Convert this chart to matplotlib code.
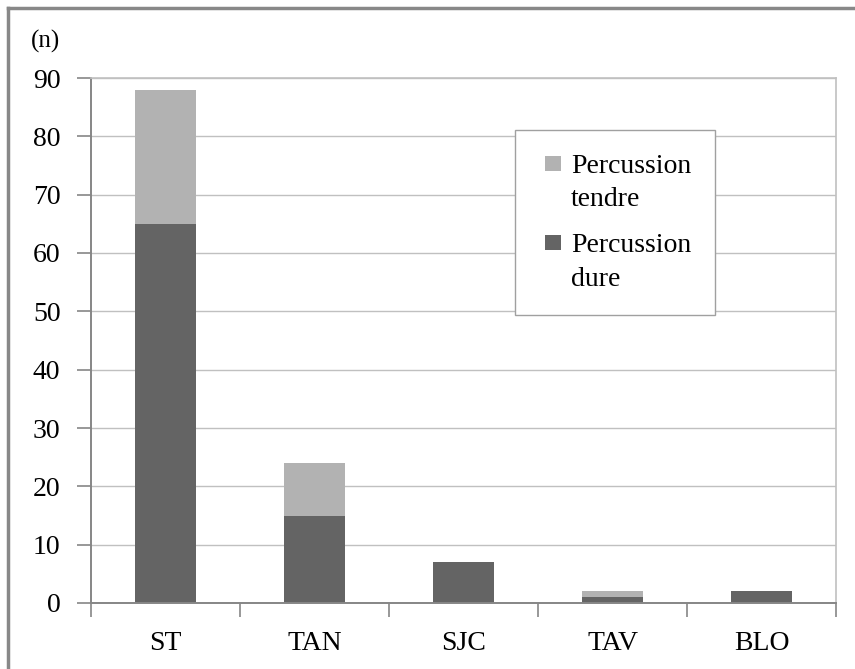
import matplotlib.pyplot as plt
from matplotlib.lines import Line2D
from matplotlib.patches import Patch, Rectangle
from matplotlib.legend_handler import HandlerPatch

plt.rcParams['font.family'] = ['Liberation Serif', 'DejaVu Serif']

sites = ['ST', 'TAN', 'SJC', 'TAV', 'BLO']
dure = [65, 15, 7, 1, 2]
tendre = [23, 9, 0, 1, 0]
yticks = [0, 10, 20, 30, 40, 50, 60, 70, 80, 90]

c_dure = '#646464'
c_tendre = '#b2b2b2'
fs = 20

fig = plt.figure(figsize=(8.55, 6.69), dpi=100)
ax = fig.add_axes([91/855, 1 - 603/669, 745/855, 525/669])

x = range(len(sites))
ax.bar(x, dure, width=0.41, color=c_dure, zorder=3)
ax.bar(x, tendre, width=0.41, bottom=dure, color=c_tendre, zorder=3)

ax.set_xlim(-0.5, len(sites) - 0.5)
ax.set_ylim(0, 90)
ax.set_yticks(yticks)
ax.yaxis.grid(True, color='#c0c0c0', lw=1.0, zorder=0)

# category separators as tick marks below the axis
ax.set_xticks([i - 0.5 for i in range(len(sites) + 1)])
ax.set_xticklabels([])
ax.set_xticks(list(x), minor=True)
ax.set_xticklabels(sites, minor=True, fontsize=fs)
ax.tick_params(axis='x', which='major', direction='out', length=10,
               color='#868686', width=1.2)
ax.tick_params(axis='x', which='minor', length=0, pad=20)
ax.tick_params(axis='y', direction='out', length=10, color='#868686',
               width=1.2, labelsize=fs, pad=12)

for s in ['left', 'bottom']:
    ax.spines[s].set_color('#868686')
    ax.spines[s].set_linewidth(1.4)
for s in ['top', 'right']:
    ax.spines[s].set_color('#c0c0c0')
    ax.spines[s].set_linewidth(1.2)
ax.spines['bottom'].set_zorder(4)

fig.text(45/855, 1 - 41/669, '(n)', fontsize=18, ha='center', va='center')


# square key drawn level with the first line of a two-line label
def top_square(legend, orig_handle, xdescent, ydescent, width, height, fontsize):
    s = 0.55 * fontsize
    return Rectangle((-xdescent + width - s, -ydescent + height - s + 0.2 * fontsize), s, s)


handles = [Patch(facecolor=c_tendre, edgecolor='none'),
           Patch(facecolor=c_dure, edgecolor='none')]
leg = ax.legend(handles, ['Percussion\ntendre', 'Percussion\ndure'],
                loc='upper left', bbox_to_anchor=(0.569, 0.901),
                borderaxespad=0, fontsize=fs, fancybox=False,
                framealpha=1, edgecolor='#a0a0a0', handlelength=0.8,
                handleheight=2.1, handletextpad=0.36, labelspacing=0.75,
                borderpad=0.85,
                handler_map={Patch: HandlerPatch(patch_func=top_square)})
leg.get_frame().set_linewidth(1.0)
for t in leg.get_texts():
    t.set_linespacing(1.45)

# outer frame along the top and left edges
fig.add_artist(Line2D([8/855, 1.0], [1 - 8/669, 1 - 8/669],
                      transform=fig.transFigure, color='#888888', lw=2.5))
fig.add_artist(Line2D([8/855, 8/855], [0.0, 1 - 8/669],
                      transform=fig.transFigure, color='#888888', lw=2.5))

fig.savefig('out.png', dpi=100)
